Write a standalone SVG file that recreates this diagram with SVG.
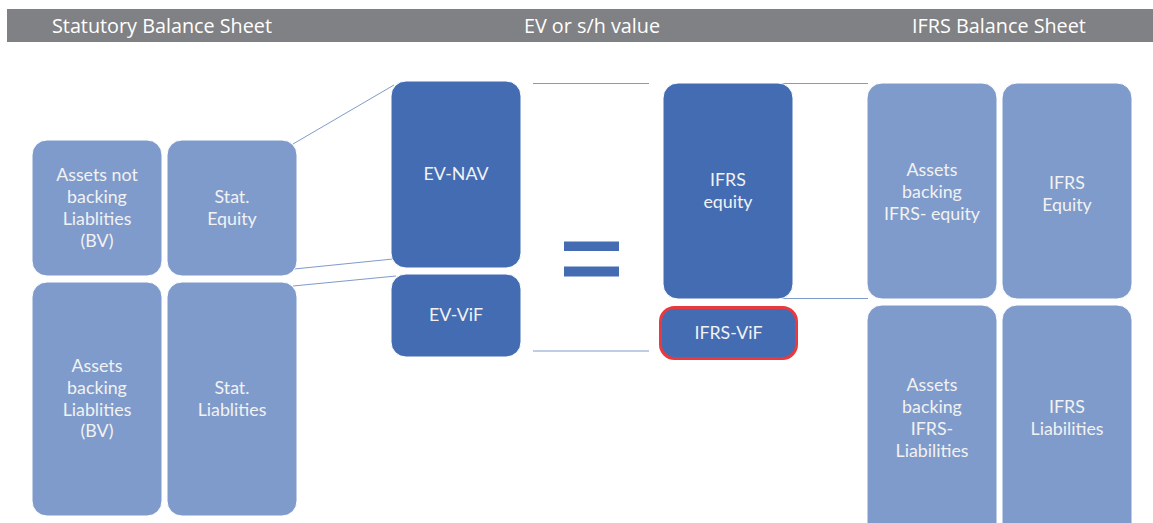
<svg xmlns="http://www.w3.org/2000/svg" width="1153" height="523" viewBox="0 0 1153 523">
<style>
.hdr{font-family:"Open Sans","Liberation Sans",sans-serif;font-size:19.8px;fill:#ffffff;text-anchor:middle}
.lt{fill:#7f9bcb;stroke:#ffffff;stroke-width:1}
.dk{fill:#446cb3;stroke:#ffffff;stroke-width:1}
.t{font-family:Lato,"Open Sans",sans-serif;font-size:17.8px;fill:#f2f2f2;text-anchor:middle;dominant-baseline:central}
.c{stroke:#7f9bcb;stroke-width:1;fill:none}
</style>
<rect x="0" y="0" width="1153" height="523" fill="#ffffff"/>
<g id="header">
<rect x="7" y="9" width="1146" height="33" fill="#808184"/>
<text class="hdr" x="162" y="33">Statutory Balance Sheet</text>
<text class="hdr" x="592" y="33">EV or s/h value</text>
<text class="hdr" x="999" y="33">IFRS Balance Sheet</text>
</g>
<g id="connectors">
<line class="c" x1="293" y1="144" x2="394" y2="85"/>
<line class="c" x1="294" y1="269" x2="393" y2="259"/>
<line class="c" x1="293" y1="286" x2="396" y2="276"/>
<line class="c" x1="533" y1="83.5" x2="649" y2="83.5"/>
<line class="c" x1="533" y1="351" x2="649" y2="351"/>
<line class="c" x1="778" y1="83.5" x2="868" y2="83.5"/>
<line class="c" x1="778" y1="298.5" x2="868" y2="298.5"/>
</g>
<g id="assets-not-backing">
<rect class="lt" x="32" y="140" width="130" height="136" rx="15"/>
<text class="t" x="97" y="174">Assets not</text>
<text class="t" x="97" y="196">backing</text>
<text class="t" x="97" y="217.8">Liablities</text>
<text class="t" x="97" y="239.6">(BV)</text>
</g>
<g id="stat-equity">
<rect class="lt" x="167" y="140" width="130" height="136" rx="15"/>
<text class="t" x="232" y="196">Stat.</text>
<text class="t" x="232" y="217.8">Equity</text>
</g>
<g id="assets-backing">
<rect class="lt" x="32" y="282" width="130" height="234" rx="15"/>
<text class="t" x="97" y="365">Assets</text>
<text class="t" x="97" y="386.8">backing</text>
<text class="t" x="97" y="408.6">Liablities</text>
<text class="t" x="97" y="430.4">(BV)</text>
</g>
<g id="stat-liabilities">
<rect class="lt" x="167" y="282" width="130" height="234" rx="15"/>
<text class="t" x="232" y="386.8">Stat.</text>
<text class="t" x="232" y="408.6">Liablities</text>
</g>
<g id="ev-nav">
<rect class="dk" x="391" y="81" width="130" height="187" rx="15"/>
<text class="t" x="456" y="172.5">EV-NAV</text>
</g>
<g id="ev-vif">
<rect class="dk" x="391" y="274" width="130" height="83" rx="15"/>
<text class="t" x="456" y="313.5">EV-ViF</text>
</g>
<g id="equals">
<rect x="564" y="241.5" width="55" height="9.5" fill="#446cb3"/>
<rect x="564" y="266.5" width="55" height="10" fill="#446cb3"/>
</g>
<g id="ifrs-equity-mid">
<rect class="dk" x="663" y="83" width="130" height="216" rx="15"/>
<text class="t" x="728" y="179">IFRS</text>
<text class="t" x="728" y="201">equity</text>
</g>
<g id="ifrs-vif">
<rect x="660.5" y="307.5" width="136" height="51" rx="14" fill="#446cb3" stroke="#e8393f" stroke-width="3"/>
<text class="t" x="728.5" y="331.5">IFRS-ViF</text>
</g>
<g id="assets-backing-ifrs-equity">
<rect class="lt" x="867" y="83" width="130" height="216" rx="15"/>
<text class="t" x="932" y="169">Assets</text>
<text class="t" x="932" y="191">backing</text>
<text class="t" x="932" y="213">IFRS- equity</text>
</g>
<g id="ifrs-equity">
<rect class="lt" x="1002" y="83" width="130" height="216" rx="15"/>
<text class="t" x="1067" y="182">IFRS</text>
<text class="t" x="1067" y="204">Equity</text>
</g>
<g id="assets-backing-ifrs-liabilities">
<rect class="lt" x="867" y="305" width="130" height="240" rx="15"/>
<text class="t" x="932" y="384">Assets</text>
<text class="t" x="932" y="406">backing</text>
<text class="t" x="932" y="428">IFRS-</text>
<text class="t" x="932" y="450">Liabilities</text>
</g>
<g id="ifrs-liabilities">
<rect class="lt" x="1002" y="305" width="130" height="240" rx="15"/>
<text class="t" x="1067" y="406">IFRS</text>
<text class="t" x="1067" y="428">Liabilities</text>
</g>
</svg>
